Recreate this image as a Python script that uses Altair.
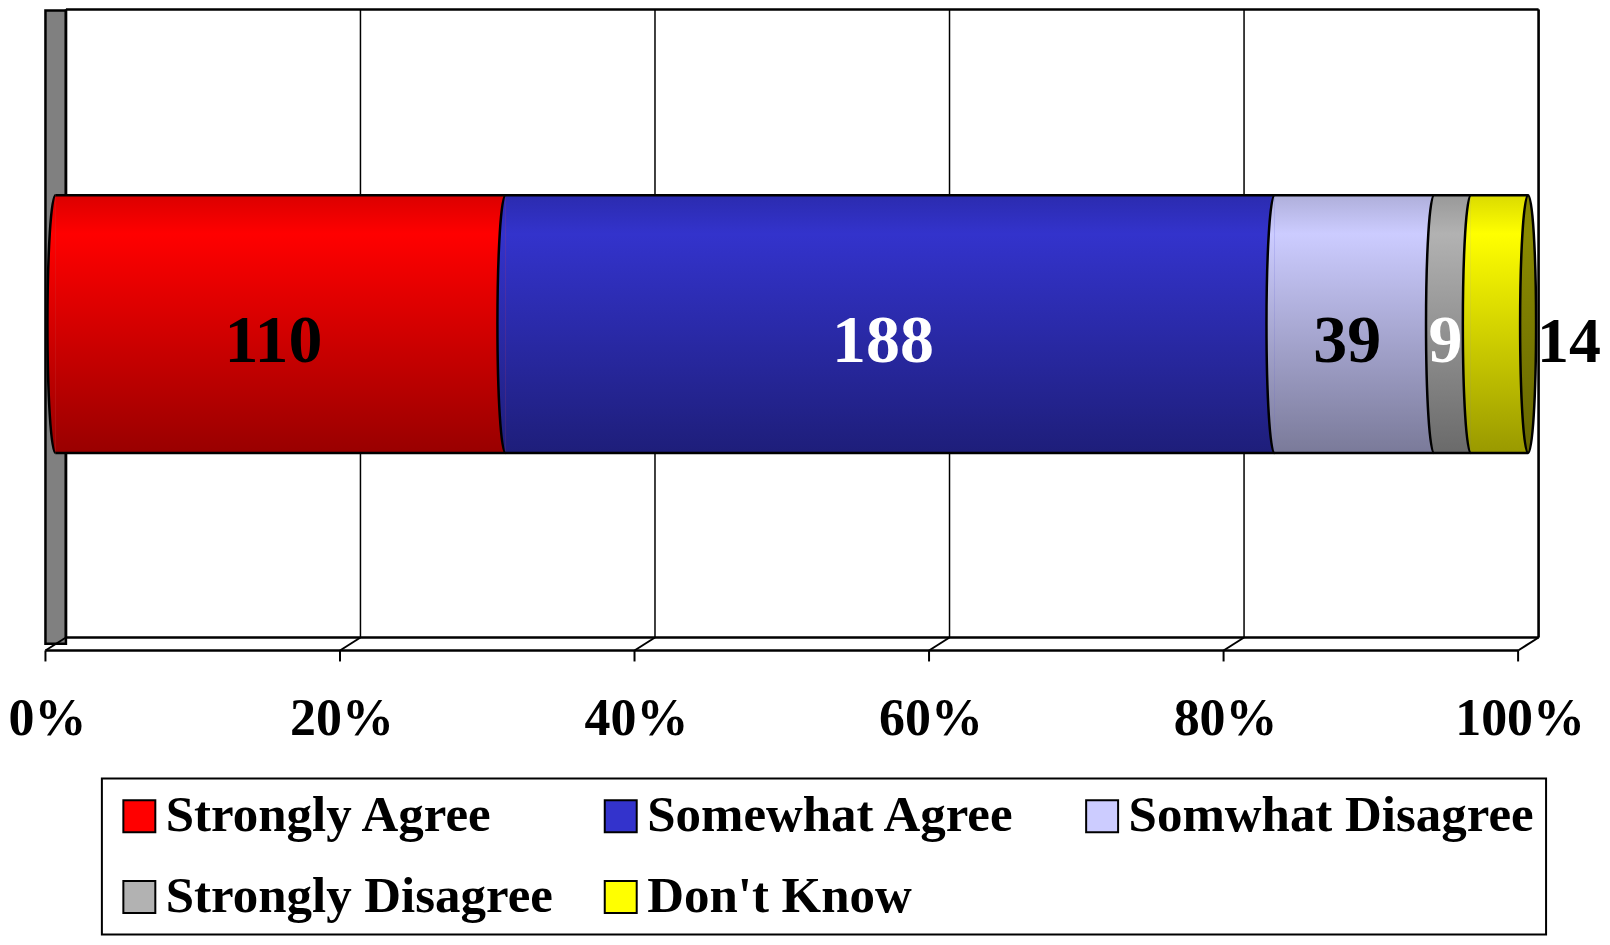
import altair as alt
import pandas as pd

# ---- data -------------------------------------------------------------
CATEGORIES = ["Strongly Agree", "Somewhat Agree", "Somwhat Disagree",
              "Strongly Disagree", "Don't Know"]
COUNTS = [110, 188, 39, 9, 14]
COLORS = ["#FF0000", "#3333CC", "#CCCCFF", "#B2B2B2", "#FFFF00"]
TICKS = [0.0, 0.2, 0.4, 0.6, 0.8, 1.0]
WHITE_LABELS = ["Somewhat Agree", "Strongly Disagree"]
OUTSIDE_LABELS = ["Don't Know"]

total = float(sum(COUNTS))
starts, ends, acc = [], [], 0
for c in COUNTS:
    starts.append(acc / total)
    acc += c
    ends.append(acc / total)

bars = pd.DataFrame({
    "cat": CATEGORIES, "count": COUNTS, "start": starts, "end": ends,
    "mid": [(s + e) / 2 for s, e in zip(starts, ends)], "row": "All",
})
ticks = pd.DataFrame({"tick": TICKS})
frame = pd.DataFrame({"lo": [TICKS[0]], "hi": [TICKS[-1]]})

# ---- geometry / style ---------------------------------------------------
W, H = 1596, 929
DX = 20.5            # depth shift of the back wall
BACK_TOP, BACK_BOTTOM, FRONT, TICK_END = 1, 629.7, 642.7, 653.7
BAR_TOP, BAR_BOTTOM = 187, 445
BAR_SHIFT = 10
FONT = "Liberation Serif"

xs = alt.Scale(domain=[0, 1], range=[37.5, 1512], nice=False, zero=False)
ys = alt.Scale(domain=["All"], range=[BAR_TOP, BAR_BOTTOM], paddingInner=0, paddingOuter=0)


def shade(hexc, f):
    h = hexc.lstrip("#")
    r, g, b = (int(h[i:i + 2], 16) for i in (0, 2, 4))
    return "#%02x%02x%02x" % (int(r * f), int(g * f), int(b * f))


def grad(hexc, top=0.86, bottom=0.6):
    return alt.LinearGradient(
        gradient="linear", x1=0, x2=0, y1=0, y2=1,
        stops=[alt.GradientStop(offset=0, color=shade(hexc, top)),
               alt.GradientStop(offset=0.15, color=hexc),
               alt.GradientStop(offset=1, color=shade(hexc, bottom))])


bar_h = BAR_BOTTOM - BAR_TOP
rx = 8.0 / (bar_h / 2.0)
k = 0.5523
HALF = (f"M0,-1 C{-rx * k:.4f},-1 {-rx:.4f},{-k} {-rx:.4f},0 "
        f"C{-rx:.4f},{k} {-rx * k:.4f},1 0,1")
FULL = HALF + (f" C{rx * k:.4f},1 {rx:.4f},{k} {rx:.4f},0 "
               f"C{rx:.4f},{-k} {rx * k:.4f},-1 0,-1 Z")

X = lambda f: alt.X(f, scale=xs, axis=None)
Y = alt.Y("row:N", scale=ys, axis=None)

base_t = alt.Chart(ticks)
base_f = alt.Chart(frame)
base_b = alt.Chart(bars)

layers = []

# side wall
layers.append(base_f.mark_rect(fill="#808080", stroke="black", strokeWidth=2.5,
                               x2Offset=DX).encode(
    x=X("lo:Q"), x2="lo:Q", y=alt.value(2), y2=alt.value(636)))
# back wall grid + frame
layers.append(base_t.mark_rule(color="black", strokeWidth=1.5, xOffset=DX).encode(
    x=X("tick:Q"), y=alt.value(BACK_TOP), y2=alt.value(BACK_BOTTOM)))
layers.append(base_t.transform_filter(
    alt.FieldOneOfPredicate(field="tick", oneOf=[TICKS[0], TICKS[-1]])).mark_rule(
    color="black", strokeWidth=2.5, xOffset=DX).encode(
    x=X("tick:Q"), y=alt.value(BACK_TOP), y2=alt.value(BACK_BOTTOM)))
for yv, off in [(BACK_TOP, DX), (BACK_BOTTOM, DX), (FRONT, 0)]:
    layers.append(base_f.mark_rule(color="black", strokeWidth=2.5,
                                   xOffset=off, x2Offset=off).encode(
        x=X("lo:Q"), x2="hi:Q", y=alt.value(yv)))
# floor diagonals and ticks
layers.append(base_t.mark_rule(color="black", strokeWidth=2, x2Offset=DX).encode(
    x=X("tick:Q"), x2="tick:Q", y=alt.value(FRONT), y2=alt.value(BACK_BOTTOM)))
layers.append(base_t.mark_rule(color="black", strokeWidth=2).encode(
    x=X("tick:Q"), y=alt.value(FRONT), y2=alt.value(TICK_END)))
# tick labels
layers.append(base_t.mark_text(font=FONT, fontWeight="bold", fontSize=52,
                               baseline="alphabetic", align="center", color="black",
                               xOffset=2).encode(
    x=X("tick:Q"), y=alt.value(727), text=alt.Text("tick:Q", format=".0%")))

# bar base layer (carries the legend)
layers.append(base_b.mark_bar(xOffset=BAR_SHIFT, x2Offset=BAR_SHIFT).encode(
    x=X("start:Q"), x2="end:Q", y=Y,
    color=alt.Color("cat:N", scale=alt.Scale(domain=CATEGORIES, range=COLORS),
                    legend=alt.Legend(
                        title=None, orient="none", legendX=94, legendY=771,
                        direction="horizontal", columns=3, gridAlign="all",
                        symbolType="square",
                        symbolSize=1024, symbolStrokeColor="black",
                        symbolStrokeWidth=2, symbolOpacity=1,
                        labelFont=FONT, labelFontWeight="bold", labelFontSize=51,
                        labelColor="black", labelLimit=1000, labelOffset=1,
                        columnPadding=24, rowPadding=29, padding=12,
                        strokeColor="black", fillColor="white"))))

# gradient segments
for cat, col in zip(CATEGORIES, COLORS):
    layers.append(base_b.transform_filter(alt.datum.cat == cat).mark_bar(
        fill=grad(col), xOffset=BAR_SHIFT, x2Offset=BAR_SHIFT).encode(
        x=X("start:Q"), x2="end:Q", y=Y))
for cat, col in zip(CATEGORIES, COLORS):
    layers.append(base_b.transform_filter(alt.datum.cat == cat).mark_point(
        shape=HALF, size=bar_h * bar_h, filled=True, fill=grad(col),
        stroke="black", strokeWidth=2.5, opacity=1, xOffset=BAR_SHIFT).encode(
        x=X("start:Q"), y=Y))
# end cap
layers.append(base_b.transform_filter(alt.datum.cat == CATEGORIES[-1]).mark_point(
    shape=FULL, size=bar_h * bar_h, filled=True, fill=grad("#8A8A00", 0.95, 0.75),
    stroke="black", strokeWidth=2.5, opacity=1, xOffset=BAR_SHIFT).encode(
    x=X("end:Q"), y=Y))
# bar top/bottom outline
for yv in (BAR_TOP, BAR_BOTTOM):
    layers.append(base_f.mark_rule(color="black", strokeWidth=2.5,
                                   xOffset=BAR_SHIFT, x2Offset=BAR_SHIFT).encode(
        x=X("lo:Q"), x2="hi:Q", y=alt.value(yv)))

# value labels
label_color = alt.condition(alt.FieldOneOfPredicate(field="cat", oneOf=WHITE_LABELS),
                            alt.value("white"), alt.value("black"))
layers.append(base_b.transform_filter(
    ~alt.FieldOneOfPredicate(field="cat", oneOf=OUTSIDE_LABELS)).mark_text(
    font=FONT, fontWeight="bold", fontSize=68, baseline="alphabetic",
    align="center", dy=37.5, xOffset=3).encode(
    x=X("mid:Q"), y=Y, text="count:Q", color=label_color))
layers.append(base_b.transform_filter(
    alt.FieldOneOfPredicate(field="cat", oneOf=OUTSIDE_LABELS)).mark_text(
    font=FONT, fontWeight="bold", fontSize=64, baseline="alphabetic",
    align="center", dy=37.5, dx=51).encode(
    x=X("end:Q"), y=Y, text="count:Q", color=label_color))

chart = alt.layer(*layers).properties(
    width=W, height=H, padding=0,
    autosize=alt.AutoSizeParams(type="none"),
    background="white",
).configure_view(strokeWidth=0).configure_legend(strokeWidth=2)

chart.save("out.html", embed_options={"renderer": "svg", "actions": False})
